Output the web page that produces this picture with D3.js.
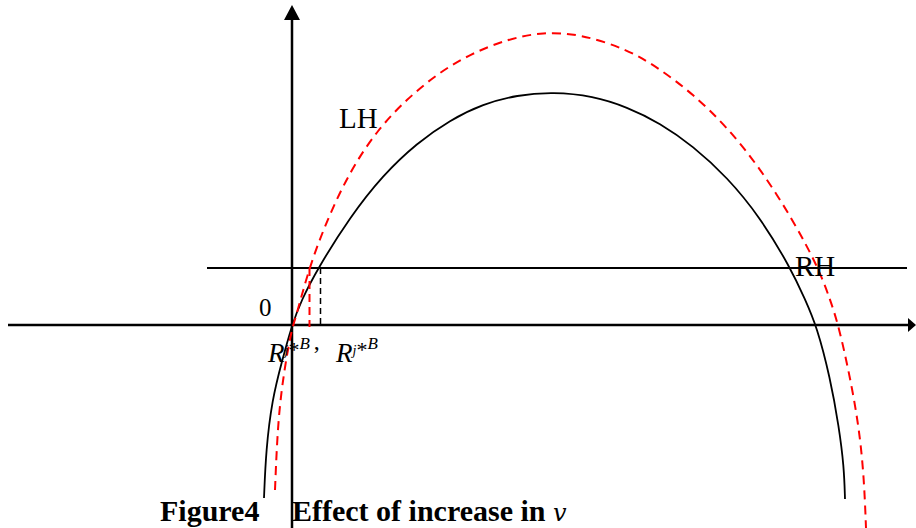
<!DOCTYPE html>
<html>
<head>
<meta charset="utf-8">
<script src="https://cdn.jsdelivr.net/npm/d3@7"></script>
<style>
  body { margin: 0; background: #fff; }
  svg text { font-family: "Liberation Serif", "Times New Roman", serif; fill: #000; }
</style>
</head>
<body>
<svg id="chart" width="916" height="528"></svg>
<script>
"use strict";

// curve points (x, y) in axis units
const lhrhBase = [
    [-2.8, -17.3], [-2.6, -12.5], [-2.0, -7.5], [-1.0, -3.6], [0, 0], [0.9, 2.4],
    [2.6, 5.7], [5.8, 10.8], [9.1, 15.0], [12.5, 18.2], [15.8, 20.5], [19.1, 22.1],
    [22.5, 23.0], [26.1, 23.3], [30.1, 22.9], [33.5, 21.8], [36.8, 20.2], [40.1, 17.9],
    [43.5, 14.8], [46.8, 10.8], [49.8, 5.8], [51.3, 2.6], [52.5, -0.2], [53.8, -5.2],
    [54.7, -10.2], [55.2, -14.2], [55.3, -17.4]
];
const lhrhHighV = [
    [-1.7, -16.5], [-1.4, -9.2], [-0.7, -4.0], [0, -0.3], [0.4, 0.8], [1.7, 5.7],
    [3.5, 10.5], [5.8, 15.4], [8.6, 19.6], [11.5, 22.6], [14.5, 25.1], [17.8, 27.1],
    [21.6, 28.6], [25.1, 29.3], [28.8, 29.1], [33.5, 27.6], [36.8, 25.6], [40.1, 23.1],
    [43.5, 19.8], [46.8, 15.7], [50.1, 10.5], [52.6, 5.8], [53.8, 2.6], [54.7, -0.2],
    [55.8, -5.2], [56.7, -10.2], [57.2, -15.2], [57.4, -20.3]
];
const rLevel = 5.7;                 // horizontal line
const rLevelExtent = [-8.5, 61.5];
const equilibria = [                // dashed drops to the x axis
    { x: 1.75, color: "#ff0000" },
    { x: 2.85, color: "#000000" }
];

const svg = d3.select("#chart");

const x = d3.scaleLinear().domain([-28.4, 62.4]).range([8, 916]);
const y = d3.scaleLinear().domain([-20.3, 32]).range([528, 5]);

// axes
svg.append("line")
    .attr("x1", x(-28.4)).attr("x2", x(61.6))
    .attr("y1", y(0)).attr("y2", y(0))
    .attr("stroke", "#000").attr("stroke-width", 2.5);
svg.append("path")
    .attr("d", `M${x(62.4)},${y(0)} L${x(61.6)},${y(0) - 7} L${x(61.6)},${y(0) + 7} Z`)
    .attr("fill", "#000");

svg.append("line")
    .attr("x1", x(0)).attr("x2", x(0))
    .attr("y1", y(-20.3)).attr("y2", y(30.5))
    .attr("stroke", "#000").attr("stroke-width", 2.5);
svg.append("path")
    .attr("d", `M${x(0)},${y(32)} L${x(0) - 8},${y(30.5)} L${x(0) + 8},${y(30.5)} Z`)
    .attr("fill", "#000");

// horizontal line
svg.append("line")
    .attr("x1", x(rLevelExtent[0])).attr("x2", x(rLevelExtent[1]))
    .attr("y1", y(rLevel)).attr("y2", y(rLevel))
    .attr("stroke", "#000").attr("stroke-width", 2);

const line = d3.line()
    .x(d => x(d[0]))
    .y(d => y(d[1]))
    .curve(d3.curveBasis);

svg.append("path")
    .datum(lhrhBase)
    .attr("d", line)
    .attr("fill", "none")
    .attr("stroke", "#000")
    .attr("stroke-width", 1.8);

svg.append("path")
    .datum(lhrhHighV)
    .attr("d", line)
    .attr("fill", "none")
    .attr("stroke", "#ff0000")
    .attr("stroke-width", 2)
    .attr("stroke-dasharray", "9,6");

svg.selectAll(".drop")
    .data(equilibria)
    .enter()
    .append("line")
    .attr("class", "drop")
    .attr("x1", d => x(d.x)).attr("x2", d => x(d.x))
    .attr("y1", y(rLevel)).attr("y2", y(-0.2))
    .attr("stroke", d => d.color)
    .attr("stroke-width", d => d.color === "#000000" ? 1.5 : 2)
    .attr("stroke-dasharray", d => d.color === "#000000" ? "6,4" : "8,5");

// labels
svg.append("text").attr("x", 339).attr("y", 128).style("font-size", "29px").text("LH");
svg.append("text").attr("x", 795).attr("y", 276).style("font-size", "29px").text("RH");
svg.append("text").attr("x", 259).attr("y", 316).style("font-size", "25px").text("0");

function rLabel(px, withComma) {
    const t = svg.append("text").attr("x", px).attr("y", 362).style("font-size", "27px");
    t.append("tspan").style("font-style", "italic").text("R");
    t.append("tspan").style("font-style", "italic").style("font-size", "14px")
        .attr("dy", -7).text("j");
    t.append("tspan").style("font-size", "22px").attr("dy", 2).text("*");
    t.append("tspan").style("font-style", "italic").style("font-size", "17px")
        .attr("dy", -8).text("B");
    if (withComma) {
        t.append("tspan").style("font-size", "24px").attr("dx", 4).attr("dy", 0).text(",");
    }
}
rLabel(268, true);
rLabel(336, false);

// caption
const cap = svg.append("text")
    .attr("x", 160).attr("y", 521)
    .style("font-size", "30px").style("font-weight", "bold");
cap.append("tspan").text("Figure4");
cap.append("tspan").attr("x", 292).text("Effect of increase in ");
cap.append("tspan").style("font-style", "italic").style("font-family", "'DejaVu Serif', serif")
    .style("font-weight", "normal").style("font-size", "24px").text("v");
</script>
</body>
</html>
